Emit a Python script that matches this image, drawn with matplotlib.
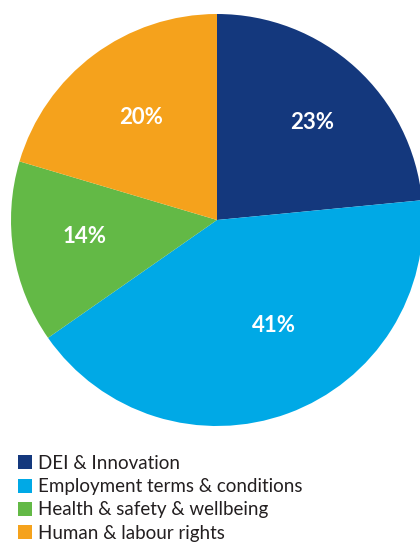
import numpy as np
import matplotlib.pyplot as plt
from matplotlib.lines import Line2D

plt.rcParams['font.family'] = ['Lato', 'DejaVu Sans']

# 카테고리와 비율
categories = ['DEI & Innovation', 'Employment terms & conditions',
              'Health & safety & wellbeing', 'Human & labour rights']
shares = [23, 41, 14, 20]
colors = ['#14387d', '#00a9e6', '#63b946', '#f5a21c']

fig = plt.figure(figsize=(4.2, 5.43), dpi=100)

# 파이 영역 (중심 x=217px, y=220px, 반지름 206px)
r_px = 206
ax = fig.add_axes([(217 - r_px) / 420, (543 - 220 - r_px) / 543,
                   2 * r_px / 420, 2 * r_px / 543])
wedges, _ = ax.pie(shares, colors=colors, startangle=90, counterclock=False,
                   radius=1.0, wedgeprops=dict(linewidth=0))
ax.set_xlim(-1, 1)
ax.set_ylim(-1, 1)
ax.set_aspect('equal')
ax.axis('off')

# 퍼센트 라벨 (조각 중앙 각도 기준, 반지름 비율)
label_dist = [0.66, 0.58, 0.65, 0.62]
label_shift = [-2, 8, -2, 0]
for w, v, d, s in zip(wedges, shares, label_dist, label_shift):
    ang = np.deg2rad((w.theta1 + w.theta2) / 2 + s)
    ax.text(d * np.cos(ang), d * np.sin(ang), f'{v}%', color='white',
            fontsize=16, fontweight='bold', ha='center', va='center')

# 범례
handles = [Line2D([], [], marker='s', linestyle='none', markersize=9.5,
                  markerfacecolor=c, markeredgewidth=0) for c in colors]
fig.legend(handles, categories, loc='upper left',
           bbox_to_anchor=(18 / 420, 1 - 455 / 543), frameon=False,
           fontsize=13.5, handlelength=0.7, handletextpad=0.35,
           labelspacing=0.33, borderaxespad=0, borderpad=0,
           labelcolor='#231f20')

fig.savefig('out.png', dpi=100)
